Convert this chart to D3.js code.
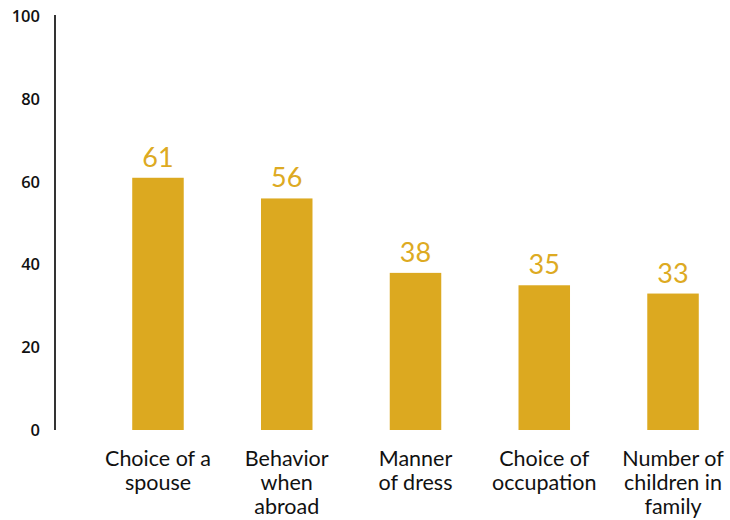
<!DOCTYPE html>
<html>
<head>
<meta charset="utf-8">
<script src="https://cdn.jsdelivr.net/npm/d3@7"></script>
<style>
  html, body { margin: 0; padding: 0; background: #fff; }
  svg { display: block; }
</style>
</head>
<body>
<svg id="chart" width="730" height="520"></svg>
<script>
// Survey categories (label lines) and percentages
const categories = [
  ["Choice of a", "spouse"],
  ["Behavior", "when", "abroad"],
  ["Manner", "of dress"],
  ["Choice of", "occupation"],
  ["Number of", "children in", "family"]
];
const values = [61, 56, 38, 35, 33];
const yTicks = [0, 20, 40, 60, 80, 100];

const barColor = "#DCA920";
const labelColor = "#DDAA22";

const svg = d3.select("#chart");

const keys = categories.map(c => c.join(" "));

const x = d3.scaleBand()
  .domain(keys)
  .range([93.6, 737.4])
  .paddingInner(0.6)
  .paddingOuter(0.3);

const y = d3.scaleLinear()
  .domain([0, 100])
  .range([430, 16.5]);

// Y axis: a plain vertical line with numeric labels, no tick marks
const yAxis = d3.axisLeft(y)
  .tickValues(yTicks)
  .tickSize(0)
  .tickPadding(15);

const gy = svg.append("g")
  .attr("transform", "translate(55,0)")
  .call(yAxis);
gy.select(".domain")
  .attr("stroke", "#000")
  .attr("stroke-width", 1.6)
  .attr("d", `M0,${y(100) - 1.5}V${y(0)}`);
gy.selectAll("text")
  .attr("fill", "#111")
  .style("font-family", "'Open Sans', sans-serif")
  .style("font-size", "16.5px")
  .style("font-weight", "600");

// Bars
svg.append("g").selectAll("rect")
  .data(values)
  .join("rect")
  .attr("x", (d, i) => x(keys[i]))
  .attr("y", d => y(d))
  .attr("width", x.bandwidth())
  .attr("height", d => y(0) - y(d))
  .attr("fill", barColor);

// Value labels above bars
svg.append("g").selectAll("text")
  .data(values)
  .join("text")
  .attr("x", (d, i) => x(keys[i]) + x.bandwidth() / 2)
  .attr("y", d => y(d) - 11)
  .attr("text-anchor", "middle")
  .attr("fill", labelColor)
  .style("font-family", "Lato, sans-serif")
  .style("font-size", "27px")
  .text(d => d);

// Category labels (multi-line)
const cat = svg.append("g").selectAll("text")
  .data(categories)
  .join("text")
  .attr("x", (d, i) => x(keys[i]) + x.bandwidth() / 2)
  .attr("y", 466)
  .attr("text-anchor", "middle")
  .attr("fill", "#111")
  .style("font-family", "Lato, sans-serif")
  .style("font-size", "21.5px");
cat.selectAll("tspan")
  .data(d => d)
  .join("tspan")
  .attr("x", function () { return d3.select(this.parentNode).attr("x"); })
  .attr("dy", (d, i) => i === 0 ? 0 : 24)
  .text(d => d);
</script>
</body>
</html>
